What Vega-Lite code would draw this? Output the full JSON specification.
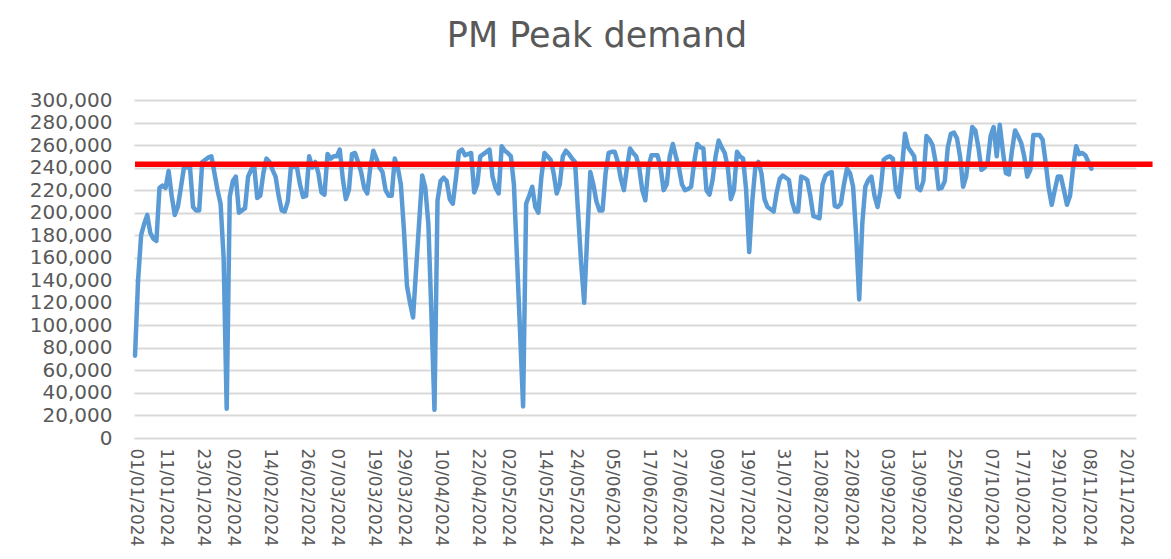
{
"$schema": "https://vega.github.io/schema/vega-lite/v6.json",
"autosize": {"type": "none"},
"width": 1002,
"height": 338,
"padding": {"left": 134, "top": 100, "right": 35, "bottom": 121},
"background": "#FFFFFF",
"title": {"text": "PM Peak demand", "fontSize": 35, "font": "DejaVu Sans", "fontWeight": "normal", "color": "#595959", "anchor": "middle", "dx": -38, "offset": 36},
"config": {"font": "DejaVu Sans", "view": {"stroke": null}},
"encoding": {
"x": {"field": "date", "type": "temporal",
"scale": {"type": "utc", "domain": [{"year": 2023, "month": 12, "date": 31, "hours": 16, "utc": true}, {"year": 2024, "month": 11, "date": 23, "hours": 14, "utc": true}]},
"axis": {"title": null, "grid": false, "domain": false, "ticks": false, "labelAngle": 90, "labelAlign": "left", "labelBaseline": "middle", "labelPadding": 10, "labelFontSize": 17, "labelColor": "#595959", "labelFlush": false, "labelOverlap": false, "labelExpr": "utcFormat(datum.value, '%d/%m/%Y')",
"values": [
{"year":2024,"month":1,"date":1,"utc":true},{"year":2024,"month":1,"date":11,"utc":true},{"year":2024,"month":1,"date":23,"utc":true},{"year":2024,"month":2,"date":2,"utc":true},{"year":2024,"month":2,"date":14,"utc":true},{"year":2024,"month":2,"date":26,"utc":true},{"year":2024,"month":3,"date":7,"utc":true},{"year":2024,"month":3,"date":19,"utc":true},{"year":2024,"month":3,"date":29,"utc":true},{"year":2024,"month":4,"date":10,"utc":true},{"year":2024,"month":4,"date":22,"utc":true},{"year":2024,"month":5,"date":2,"utc":true},{"year":2024,"month":5,"date":14,"utc":true},{"year":2024,"month":5,"date":24,"utc":true},{"year":2024,"month":6,"date":5,"utc":true},{"year":2024,"month":6,"date":17,"utc":true},{"year":2024,"month":6,"date":27,"utc":true},{"year":2024,"month":7,"date":9,"utc":true},{"year":2024,"month":7,"date":19,"utc":true},{"year":2024,"month":7,"date":31,"utc":true},{"year":2024,"month":8,"date":12,"utc":true},{"year":2024,"month":8,"date":22,"utc":true},{"year":2024,"month":9,"date":3,"utc":true},{"year":2024,"month":9,"date":13,"utc":true},{"year":2024,"month":9,"date":25,"utc":true},{"year":2024,"month":10,"date":7,"utc":true},{"year":2024,"month":10,"date":17,"utc":true},{"year":2024,"month":10,"date":29,"utc":true},{"year":2024,"month":11,"date":8,"utc":true},{"year":2024,"month":11,"date":20,"utc":true}
]}},
"y": {"field": "demand", "type": "quantitative",
"scale": {"domain": [0, 300000], "nice": false},
"axis": {"title": null, "grid": true, "gridColor": "#D9D9D9", "gridWidth": 2, "domain": false, "ticks": false, "labelFontSize": 20, "labelColor": "#595959", "labelPadding": 22, "format": ",d",
"values": [0,20000,40000,60000,80000,100000,120000,140000,160000,180000,200000,220000,240000,260000,280000,300000]}}
},
"layer": [
{
"data": {"values": [
{"date":"2024-01-01","demand":73000},{"date":"2024-01-02","demand":140000},{"date":"2024-01-03","demand":180000},{"date":"2024-01-04","demand":190000},{"date":"2024-01-05","demand":198000},{"date":"2024-01-06","demand":182000},{"date":"2024-01-07","demand":177000},{"date":"2024-01-08","demand":175000},{"date":"2024-01-09","demand":222000},{"date":"2024-01-10","demand":224000},{"date":"2024-01-11","demand":222000},{"date":"2024-01-12","demand":237000},{"date":"2024-01-13","demand":215000},{"date":"2024-01-14","demand":198000},{"date":"2024-01-15","demand":205000},{"date":"2024-01-16","demand":222000},{"date":"2024-01-17","demand":240000},{"date":"2024-01-18","demand":240000},{"date":"2024-01-19","demand":240000},{"date":"2024-01-20","demand":205000},{"date":"2024-01-21","demand":202000},{"date":"2024-01-22","demand":202000},{"date":"2024-01-23","demand":245000},{"date":"2024-01-24","demand":247000},{"date":"2024-01-25","demand":249000},{"date":"2024-01-26","demand":250000},{"date":"2024-01-27","demand":235000},{"date":"2024-01-28","demand":220000},{"date":"2024-01-29","demand":208000},{"date":"2024-01-30","demand":160000},{"date":"2024-01-31","demand":26000},
{"date":"2024-02-01","demand":214000},{"date":"2024-02-02","demand":228000},{"date":"2024-02-03","demand":232000},{"date":"2024-02-04","demand":200000},{"date":"2024-02-05","demand":202000},{"date":"2024-02-06","demand":204000},{"date":"2024-02-07","demand":232000},{"date":"2024-02-08","demand":238000},{"date":"2024-02-09","demand":241000},{"date":"2024-02-10","demand":213000},{"date":"2024-02-11","demand":215000},{"date":"2024-02-12","demand":235000},{"date":"2024-02-13","demand":248000},{"date":"2024-02-14","demand":245000},{"date":"2024-02-15","demand":238000},{"date":"2024-02-16","demand":232000},{"date":"2024-02-17","demand":215000},{"date":"2024-02-18","demand":202000},{"date":"2024-02-19","demand":201000},{"date":"2024-02-20","demand":210000},{"date":"2024-02-21","demand":240000},{"date":"2024-02-22","demand":241000},{"date":"2024-02-23","demand":240000},{"date":"2024-02-24","demand":225000},{"date":"2024-02-25","demand":214000},{"date":"2024-02-26","demand":215000},{"date":"2024-02-27","demand":250000},{"date":"2024-02-28","demand":240000},{"date":"2024-02-29","demand":245000},
{"date":"2024-03-01","demand":235000},{"date":"2024-03-02","demand":218000},{"date":"2024-03-03","demand":216000},{"date":"2024-03-04","demand":252000},{"date":"2024-03-05","demand":248000},{"date":"2024-03-06","demand":250000},{"date":"2024-03-07","demand":250000},{"date":"2024-03-08","demand":256000},{"date":"2024-03-09","demand":230000},{"date":"2024-03-10","demand":212000},{"date":"2024-03-11","demand":220000},{"date":"2024-03-12","demand":252000},{"date":"2024-03-13","demand":253000},{"date":"2024-03-14","demand":245000},{"date":"2024-03-15","demand":236000},{"date":"2024-03-16","demand":222000},{"date":"2024-03-17","demand":217000},{"date":"2024-03-18","demand":240000},{"date":"2024-03-19","demand":255000},{"date":"2024-03-20","demand":248000},{"date":"2024-03-21","demand":240000},{"date":"2024-03-22","demand":236000},{"date":"2024-03-23","demand":220000},{"date":"2024-03-24","demand":215000},{"date":"2024-03-25","demand":215000},{"date":"2024-03-26","demand":248000},{"date":"2024-03-27","demand":240000},{"date":"2024-03-28","demand":225000},{"date":"2024-03-29","demand":185000},{"date":"2024-03-30","demand":135000},{"date":"2024-03-31","demand":120000},
{"date":"2024-04-01","demand":107000},{"date":"2024-04-02","demand":150000},{"date":"2024-04-03","demand":192000},{"date":"2024-04-04","demand":233000},{"date":"2024-04-05","demand":222000},{"date":"2024-04-06","demand":190000},{"date":"2024-04-07","demand":110000},{"date":"2024-04-08","demand":25000},{"date":"2024-04-09","demand":211000},{"date":"2024-04-10","demand":228000},{"date":"2024-04-11","demand":231000},{"date":"2024-04-12","demand":228000},{"date":"2024-04-13","demand":212000},{"date":"2024-04-14","demand":208000},{"date":"2024-04-15","demand":230000},{"date":"2024-04-16","demand":254000},{"date":"2024-04-17","demand":256000},{"date":"2024-04-18","demand":251000},{"date":"2024-04-19","demand":252000},{"date":"2024-04-20","demand":253000},{"date":"2024-04-21","demand":218000},{"date":"2024-04-22","demand":225000},{"date":"2024-04-23","demand":250000},{"date":"2024-04-24","demand":252000},{"date":"2024-04-25","demand":254000},{"date":"2024-04-26","demand":256000},{"date":"2024-04-27","demand":232000},{"date":"2024-04-28","demand":222000},{"date":"2024-04-29","demand":217000},{"date":"2024-04-30","demand":259000},
{"date":"2024-05-01","demand":255000},{"date":"2024-05-02","demand":253000},{"date":"2024-05-03","demand":250000},{"date":"2024-05-04","demand":225000},{"date":"2024-05-05","demand":160000},{"date":"2024-05-06","demand":95000},{"date":"2024-05-07","demand":28000},{"date":"2024-05-08","demand":208000},{"date":"2024-05-09","demand":215000},{"date":"2024-05-10","demand":223000},{"date":"2024-05-11","demand":205000},{"date":"2024-05-12","demand":200000},{"date":"2024-05-13","demand":232000},{"date":"2024-05-14","demand":253000},{"date":"2024-05-15","demand":250000},{"date":"2024-05-16","demand":247000},{"date":"2024-05-17","demand":235000},{"date":"2024-05-18","demand":217000},{"date":"2024-05-19","demand":225000},{"date":"2024-05-20","demand":250000},{"date":"2024-05-21","demand":255000},{"date":"2024-05-22","demand":252000},{"date":"2024-05-23","demand":248000},{"date":"2024-05-24","demand":245000},{"date":"2024-05-25","demand":200000},{"date":"2024-05-26","demand":155000},{"date":"2024-05-27","demand":120000},{"date":"2024-05-28","demand":180000},{"date":"2024-05-29","demand":236000},{"date":"2024-05-30","demand":225000},{"date":"2024-05-31","demand":210000},
{"date":"2024-06-01","demand":202000},{"date":"2024-06-02","demand":202000},{"date":"2024-06-03","demand":235000},{"date":"2024-06-04","demand":253000},{"date":"2024-06-05","demand":254000},{"date":"2024-06-06","demand":254000},{"date":"2024-06-07","demand":245000},{"date":"2024-06-08","demand":230000},{"date":"2024-06-09","demand":220000},{"date":"2024-06-10","demand":240000},{"date":"2024-06-11","demand":257000},{"date":"2024-06-12","demand":253000},{"date":"2024-06-13","demand":250000},{"date":"2024-06-14","demand":240000},{"date":"2024-06-15","demand":220000},{"date":"2024-06-16","demand":211000},{"date":"2024-06-17","demand":240000},{"date":"2024-06-18","demand":251000},{"date":"2024-06-19","demand":251000},{"date":"2024-06-20","demand":251000},{"date":"2024-06-21","demand":240000},{"date":"2024-06-22","demand":220000},{"date":"2024-06-23","demand":225000},{"date":"2024-06-24","demand":250000},{"date":"2024-06-25","demand":261000},{"date":"2024-06-26","demand":250000},{"date":"2024-06-27","demand":240000},{"date":"2024-06-28","demand":225000},{"date":"2024-06-29","demand":220000},{"date":"2024-06-30","demand":221000},
{"date":"2024-07-01","demand":223000},{"date":"2024-07-02","demand":245000},{"date":"2024-07-03","demand":261000},{"date":"2024-07-04","demand":258000},{"date":"2024-07-05","demand":257000},{"date":"2024-07-06","demand":220000},{"date":"2024-07-07","demand":216000},{"date":"2024-07-08","demand":229000},{"date":"2024-07-09","demand":250000},{"date":"2024-07-10","demand":264000},{"date":"2024-07-11","demand":258000},{"date":"2024-07-12","demand":253000},{"date":"2024-07-13","demand":240000},{"date":"2024-07-14","demand":212000},{"date":"2024-07-15","demand":220000},{"date":"2024-07-16","demand":254000},{"date":"2024-07-17","demand":250000},{"date":"2024-07-18","demand":248000},{"date":"2024-07-19","demand":220000},{"date":"2024-07-20","demand":165000},{"date":"2024-07-21","demand":210000},{"date":"2024-07-22","demand":240000},{"date":"2024-07-23","demand":245000},{"date":"2024-07-24","demand":235000},{"date":"2024-07-25","demand":212000},{"date":"2024-07-26","demand":205000},{"date":"2024-07-27","demand":203000},{"date":"2024-07-28","demand":201000},{"date":"2024-07-29","demand":218000},{"date":"2024-07-30","demand":230000},{"date":"2024-07-31","demand":233000},
{"date":"2024-08-01","demand":231000},{"date":"2024-08-02","demand":229000},{"date":"2024-08-03","demand":210000},{"date":"2024-08-04","demand":201000},{"date":"2024-08-05","demand":201000},{"date":"2024-08-06","demand":232000},{"date":"2024-08-07","demand":231000},{"date":"2024-08-08","demand":229000},{"date":"2024-08-09","demand":215000},{"date":"2024-08-10","demand":197000},{"date":"2024-08-11","demand":196000},{"date":"2024-08-12","demand":195000},{"date":"2024-08-13","demand":225000},{"date":"2024-08-14","demand":233000},{"date":"2024-08-15","demand":235000},{"date":"2024-08-16","demand":236000},{"date":"2024-08-17","demand":206000},{"date":"2024-08-18","demand":205000},{"date":"2024-08-19","demand":208000},{"date":"2024-08-20","demand":225000},{"date":"2024-08-21","demand":239000},{"date":"2024-08-22","demand":235000},{"date":"2024-08-23","demand":223000},{"date":"2024-08-24","demand":180000},{"date":"2024-08-25","demand":123000},{"date":"2024-08-26","demand":190000},{"date":"2024-08-27","demand":223000},{"date":"2024-08-28","demand":229000},{"date":"2024-08-29","demand":232000},{"date":"2024-08-30","demand":215000},{"date":"2024-08-31","demand":205000},
{"date":"2024-09-01","demand":220000},{"date":"2024-09-02","demand":247000},{"date":"2024-09-03","demand":249000},{"date":"2024-09-04","demand":250000},{"date":"2024-09-05","demand":248000},{"date":"2024-09-06","demand":220000},{"date":"2024-09-07","demand":214000},{"date":"2024-09-08","demand":240000},{"date":"2024-09-09","demand":270000},{"date":"2024-09-10","demand":258000},{"date":"2024-09-11","demand":254000},{"date":"2024-09-12","demand":250000},{"date":"2024-09-13","demand":222000},{"date":"2024-09-14","demand":220000},{"date":"2024-09-15","demand":228000},{"date":"2024-09-16","demand":268000},{"date":"2024-09-17","demand":265000},{"date":"2024-09-18","demand":260000},{"date":"2024-09-19","demand":245000},{"date":"2024-09-20","demand":221000},{"date":"2024-09-21","demand":222000},{"date":"2024-09-22","demand":228000},{"date":"2024-09-23","demand":258000},{"date":"2024-09-24","demand":270000},{"date":"2024-09-25","demand":271000},{"date":"2024-09-26","demand":266000},{"date":"2024-09-27","demand":250000},{"date":"2024-09-28","demand":223000},{"date":"2024-09-29","demand":232000},{"date":"2024-09-30","demand":255000},
{"date":"2024-10-01","demand":276000},{"date":"2024-10-02","demand":273000},{"date":"2024-10-03","demand":258000},{"date":"2024-10-04","demand":238000},{"date":"2024-10-05","demand":240000},{"date":"2024-10-06","demand":244000},{"date":"2024-10-07","demand":268000},{"date":"2024-10-08","demand":276000},{"date":"2024-10-09","demand":250000},{"date":"2024-10-10","demand":278000},{"date":"2024-10-11","demand":255000},{"date":"2024-10-12","demand":235000},{"date":"2024-10-13","demand":234000},{"date":"2024-10-14","demand":255000},{"date":"2024-10-15","demand":273000},{"date":"2024-10-16","demand":268000},{"date":"2024-10-17","demand":262000},{"date":"2024-10-18","demand":250000},{"date":"2024-10-19","demand":232000},{"date":"2024-10-20","demand":238000},{"date":"2024-10-21","demand":269000},{"date":"2024-10-22","demand":269000},{"date":"2024-10-23","demand":269000},{"date":"2024-10-24","demand":265000},{"date":"2024-10-25","demand":245000},{"date":"2024-10-26","demand":222000},{"date":"2024-10-27","demand":207000},{"date":"2024-10-28","demand":220000},{"date":"2024-10-29","demand":232000},{"date":"2024-10-30","demand":232000},{"date":"2024-10-31","demand":220000},
{"date":"2024-11-01","demand":207000},{"date":"2024-11-02","demand":215000},{"date":"2024-11-03","demand":240000},{"date":"2024-11-04","demand":259000},{"date":"2024-11-05","demand":252000},{"date":"2024-11-06","demand":253000},{"date":"2024-11-07","demand":251000},{"date":"2024-11-08","demand":245000},{"date":"2024-11-09","demand":239000}
]},
"mark": {"type": "line", "color": "#5B9BD5", "strokeWidth": 4.5, "strokeJoin": "round", "strokeCap": "round"}
},
{
"data": {"values": [{"date": "2024-01-01", "end": "2024-11-29", "demand": 243000}]},
"mark": {"type": "rule", "color": "#FF0000", "strokeWidth": 5.5},
"encoding": {
"x2": {"field": "end"}
}
}
]
}
